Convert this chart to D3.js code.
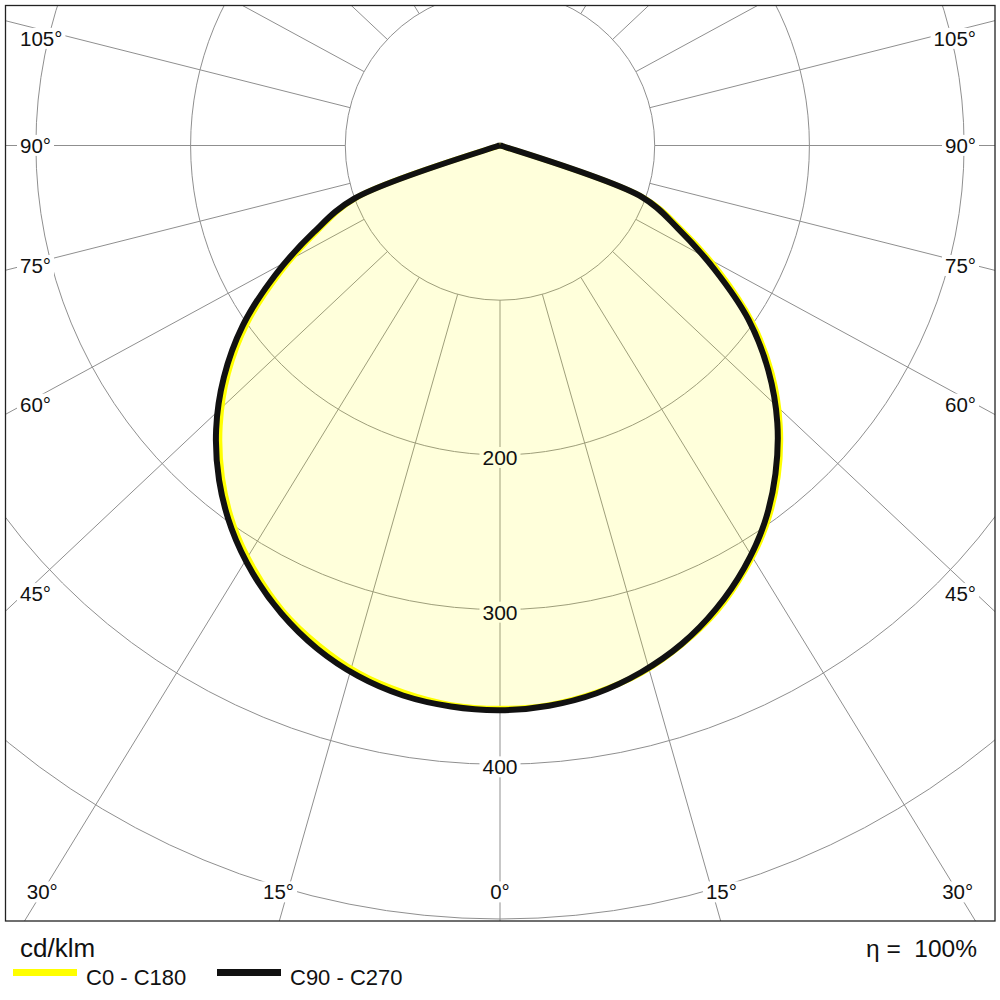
<!DOCTYPE html>
<html><head><meta charset="utf-8">
<script src="https://cdn.jsdelivr.net/npm/d3@7/dist/d3.min.js"></script>
<style>
body{margin:0;background:#fff}
text{font-family:"Liberation Sans",Arial,sans-serif;fill:#111}
</style>
</head><body>
<svg id="chart" width="1000" height="1000"></svg>
<script>
// ---- data (cd/klm) ----
const gammas  = [0,5,10,15,20,25,30,35,40,45,50,55,60,65,70,75,80,85,90];
const c0c180  = [364,363,359,353,343.5,332,317,300,279.5,256,229.5,199,164,130,99,2,1,0,0];        // yellow (C0 right, C180 left)
const c90     = [365,363.5,359.5,352.5,343,330.5,315.5,298,277,253.5,226.5,196,160,127,98,2,1,0,0];  // black, right half
const c270    = [365,364,361,355,346,334,319.5,302.5,282.5,259.5,233,203,168,133,100,2,1,0,0];       // black, left half
const radialTicks  = [100,200,300,400,500,600];
const radialLabels = [200,300,400];
const spokeAngles  = d3.range(-165,181,15);
const sideLabelAngles   = [45,60,75,90,105];
const bottomLabelAngles = [0,15,30];
const unitLabel = "cd/klm";
const seriesNames = ["C0 - C180","C90 - C270"];
const efficiency = "\u03B7 =  100%";

// ---- layout ----
const svg = d3.select("#chart");
const plot = {x0:5.5, y0:5.5, x1:995, y1:921};
const cx = 500, cy = 145.5;
const r = d3.scaleLinear().domain([0,100]).range([0,154.7]);
const spokeStretch = 1.062;
const gridColor = "#8f8f8f";

svg.append("rect").attr("width",1000).attr("height",1000).attr("fill","#fff");
svg.append("defs").append("clipPath").attr("id","clip")
  .append("rect").attr("x",plot.x0).attr("y",plot.y0)
  .attr("width",plot.x1-plot.x0).attr("height",plot.y1-plot.y0);

const grid = svg.append("g").attr("clip-path","url(#clip)");
grid.selectAll("circle.ring").data(radialTicks).join("circle")
  .attr("cx",cx).attr("cy",cy).attr("r",d=>r(d))
  .attr("fill","none").attr("stroke",gridColor).attr("stroke-width",1);

function spokeDir(g){ // g in degrees, 0 = straight down, positive = right
  const a = g*Math.PI/180;
  const dx = spokeStretch*Math.sin(a), dy = Math.cos(a);
  const n = Math.hypot(dx,dy);
  return [dx/n, dy/n];
}
grid.selectAll("line.spoke").data(spokeAngles).join("line")
  .attr("x1",d=>cx+spokeDir(d)[0]*r(100)).attr("y1",d=>cy+spokeDir(d)[1]*r(100))
  .attr("x2",d=>cx+spokeDir(d)[0]*1400).attr("y2",d=>cy+spokeDir(d)[1]*1400)
  .attr("stroke",gridColor).attr("stroke-width",1);

// ---- labels ----
const labels = [];
const fs = 20.5;
const labelTop = plot.y0 + 33;
sideLabelAngles.forEach(g=>{
  [-1,1].forEach(s=>{
    const [dx,dy] = spokeDir(g);
    const t = (cx-24)/dx;
    const y = Math.max(labelTop, cy + dy*t);
    labels.push({text:g+"\u00B0", x: s<0?20:976, y:y, anchor: s<0?"start":"end", size:fs});
  });
});
const bottomNudge = {0:0, 15:-9, 30:0};
bottomLabelAngles.forEach(g=>{
  (g===0?[1]:[-1,1]).forEach(s=>{
    const [dx,dy] = spokeDir(g);
    const t = (892-cy)/dy;
    const x = cx + s*(dx*t - bottomNudge[g]);
    labels.push({text:g+"\u00B0", x:x, y:892, anchor:"middle", size:fs});
  });
});
radialLabels.forEach(v=>{
  labels.push({text:String(v), x:cx, y:cy+r(v)+2.5, anchor:"middle", size:21});
});

const labG = svg.append("g");
const labTexts = labG.selectAll("text").data(labels).join("text")
  .attr("x",d=>d.x).attr("y",d=>d.y).attr("dy","0.36em")
  .attr("text-anchor",d=>d.anchor).attr("font-size",d=>d.size).text(d=>d.text);
const bgG = svg.insert("g", function(){return labG.node();});
labTexts.each(function(){
  const b = this.getBBox();
  bgG.append("rect").attr("x",b.x-3).attr("y",b.y+1).attr("width",b.width+6).attr("height",b.height-2).attr("fill","#fff");
});

// ---- curves ----
function ring(leftVals, rightVals){
  const pts = [];
  for(let i=gammas.length-1;i>=1;i--) pts.push({a:Math.PI+gammas[i]*Math.PI/180, v:leftVals[i]});
  pts.push({a:Math.PI, v:(leftVals[0]+rightVals[0])/2});
  for(let i=1;i<gammas.length-1;i++) pts.push({a:Math.PI-gammas[i]*Math.PI/180, v:rightVals[i]});
  return pts;
}
const radial = d3.lineRadial().angle(d=>d.a).radius(d=>r(d.v)).curve(d3.curveCatmullRomClosed.alpha(0.5));
const yellowPath = radial(ring(c0c180,c0c180));
const blackPath  = radial(ring(c270,c90));
const curveG = svg.insert("g", function(){return labG.node();}).attr("transform",`translate(${cx},${cy})`);
curveG.append("path").attr("d",yellowPath+blackPath).attr("fill","#ffff00").attr("fill-opacity",0.14).attr("stroke","none");
curveG.append("path").attr("d",yellowPath).attr("fill","none").attr("stroke","#ffff00").attr("stroke-width",5.5).attr("stroke-linejoin","round");
curveG.append("path").attr("d",blackPath).attr("fill","none").attr("stroke","#111").attr("stroke-width",6).attr("stroke-linejoin","round");

// border
svg.append("rect").attr("x",plot.x0).attr("y",plot.y0).attr("width",plot.x1-plot.x0).attr("height",plot.y1-plot.y0)
  .attr("fill","none").attr("stroke","#222").attr("stroke-width",1.3);

// ---- legend ----
svg.append("text").attr("x",20).attr("y",957).attr("font-size",26).text(unitLabel);
svg.append("text").attr("x",977).attr("y",957).attr("font-size",24.5).attr("text-anchor","end")
  .style("white-space","pre").text(efficiency);
const legColors = ["#ffff00","#111"];
const legX = [13,217];
seriesNames.forEach((n,i)=>{
  svg.append("line").attr("x1",legX[i]).attr("x2",legX[i]+64).attr("y1",972.5).attr("y2",972.5)
    .attr("stroke",legColors[i]).attr("stroke-width",7);
  svg.append("text").attr("x",legX[i]+73).attr("y",985).attr("font-size",22).text(n);
});
</script>
</body></html>
